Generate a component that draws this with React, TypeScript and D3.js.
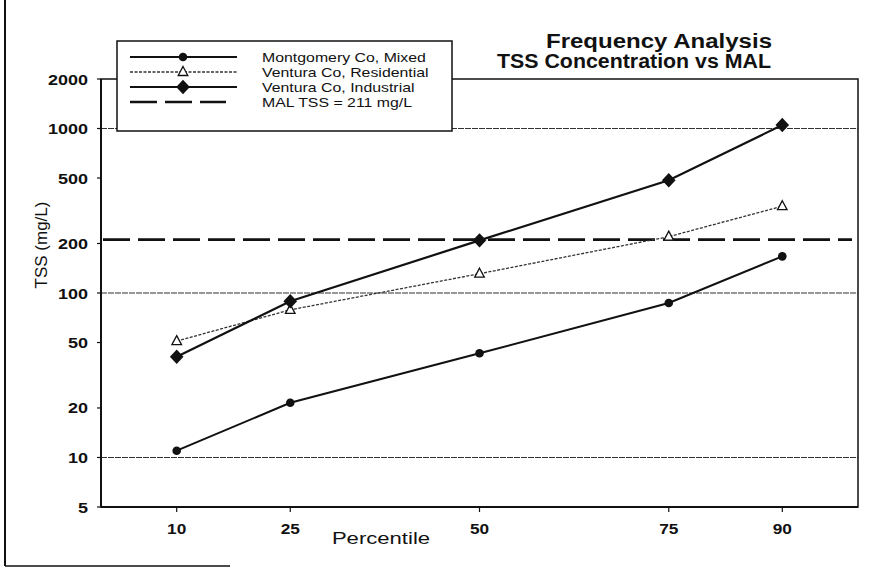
import React from "react";
import * as d3 from "d3";

// percentiles on the x axis
const percentiles = [10, 25, 50, 75, 90];

// TSS (mg/L)
const montgomeryMixed = [11, 21.5, 43, 87, 167];
const venturaResidential = [51, 79, 131, 220, 337];
const venturaIndustrial = [41, 89, 209, 485, 1050];
const malTss = 211;

const yTicks = [5, 10, 20, 50, 100, 200, 500, 1000, 2000];
const gridValues = [10, 100, 1000];

const legendLabels = [
  "Montgomery Co, Mixed",
  "Ventura Co, Residential",
  "Ventura Co, Industrial",
  "MAL TSS = 211 mg/L",
];

const FONT = "'Liberation Sans', Arial, Helvetica, sans-serif";
const INK = "#111";

const W = 890;
const H = 568;
const plot = { left: 101, right: 858, top: 79, bottom: 507 };

const x = d3.scaleLinear().domain([0, 100]).range([plot.left, plot.right]);
const y = d3.scaleLog().domain([5, 2000]).range([plot.bottom, plot.top]);

const line = d3
  .line<[number, number]>()
  .x((d) => x(d[0]))
  .y((d) => y(d[1]));

const pairs = (vals: number[]) => percentiles.map((p, i) => [p, vals[i]] as [number, number]);

// scanned text is a bit wider than the font, so stretch it horizontally
const Txt = ({ x, y, sx = 1, size, weight = "normal", anchor = "start", children }: any) => (
  <text
    transform={`translate(${x},${y}) scale(${sx},1)`}
    fontFamily={FONT}
    fontSize={size}
    fontWeight={weight}
    textAnchor={anchor}
    fill={INK}
  >
    {children}
  </text>
);

const Marker = ({ kind, cx, cy }: { kind: string; cx: number; cy: number }) => {
  if (kind === "circle") return <circle cx={cx} cy={cy} r={4.3} fill={INK} />;
  if (kind === "diamond")
    return <path d={`M${cx},${cy - 7.2} L${cx + 6.8},${cy} L${cx},${cy + 7.2} L${cx - 6.8},${cy} Z`} fill={INK} />;
  return (
    <path
      d={`M${cx},${cy - 5.5} L${cx + 4.8},${cy + 3.5} L${cx - 4.8},${cy + 3.5} Z`}
      fill="#fff"
      stroke={INK}
      strokeWidth={1.3}
    />
  );
};

const series = [
  { values: montgomeryMixed, marker: "circle", width: 2, dash: undefined, color: INK },
  { values: venturaResidential, marker: "triangle", width: 1.3, dash: "3,1.5", color: "#333" },
  { values: venturaIndustrial, marker: "diamond", width: 2.2, dash: undefined, color: INK },
];

export default function App() {
  const legend = { x: 117, y: 41, w: 335, h: 90 };
  const rowY = [57, 72, 87, 102];

  return (
    <svg
      width={W}
      height={H}
      style={{ position: "absolute", left: 0, top: 0, display: "block", background: "#fff" }}
    >
      <rect width={W} height={H} fill="#fff" />

      {/* outer page frame (partial, as scanned) */}
      <line x1={5} y1={0} x2={5} y2={566} stroke={INK} strokeWidth={2} />
      <line x1={5} y1={566} x2={230} y2={566} stroke={INK} strokeWidth={1.5} />

      {/* gridlines */}
      {gridValues.map((v) => (
        <line key={v} x1={plot.left} x2={plot.right} y1={y(v)} y2={y(v)} stroke="#333" strokeWidth={1.2} strokeDasharray="6,1" />
      ))}

      {/* plot frame */}
      <rect
        x={plot.left}
        y={plot.top}
        width={plot.right - plot.left}
        height={plot.bottom - plot.top}
        fill="none"
        stroke={INK}
        strokeWidth={1.5}
      />
      <line x1={plot.left} x2={plot.left} y1={plot.top} y2={plot.bottom} stroke={INK} strokeWidth={2} />
      <line x1={plot.left} x2={plot.right} y1={plot.bottom} y2={plot.bottom} stroke={INK} strokeWidth={2} />

      {/* y ticks */}
      {yTicks.map((v) => (
        <g key={v}>
          <line x1={plot.left - 4} x2={plot.left} y1={y(v)} y2={y(v)} stroke={INK} strokeWidth={1.2} />
          <Txt x={88} y={y(v) + 5.5} sx={1.2} size={15} weight="bold" anchor="end">
            {v}
          </Txt>
        </g>
      ))}

      {/* x ticks */}
      {percentiles.map((p) => (
        <g key={p}>
          <line x1={x(p)} x2={x(p)} y1={plot.bottom} y2={plot.bottom + 5} stroke={INK} strokeWidth={1.2} />
          <Txt x={x(p)} y={534} sx={1.15} size={15} weight="bold" anchor="middle">
            {p}
          </Txt>
        </g>
      ))}

      {/* axis titles */}
      <Txt x={381} y={544} sx={1.3} size={17} anchor="middle">
        Percentile
      </Txt>
      <text
        transform="translate(47,245) rotate(-90)"
        fontFamily={FONT}
        fontSize={17}
        textAnchor="middle"
        fill={INK}
      >
        TSS (mg/L)
      </text>

      {/* MAL line */}
      <line
        x1={plot.left + 2}
        x2={852}
        y1={y(malTss)}
        y2={y(malTss)}
        stroke={INK}
        strokeWidth={2.8}
        strokeDasharray="27,8"
      />

      {/* series */}
      {series.map((s, i) => (
        <g key={i}>
          <path
            d={line(pairs(s.values)) || ""}
            fill="none"
            stroke={s.color}
            strokeWidth={s.width}
            strokeDasharray={s.dash}
          />
          {percentiles.map((p, j) => (
            <Marker key={p} kind={s.marker} cx={x(p)} cy={y(s.values[j])} />
          ))}
        </g>
      ))}

      {/* title */}
      <text x={546} y={48} fontFamily={FONT} fontSize={19.5} fontWeight="bold" fill={INK} textLength={226} lengthAdjust="spacingAndGlyphs">
        Frequency Analysis
      </text>
      <text x={497} y={68} fontFamily={FONT} fontSize={19.5} fontWeight="bold" fill={INK} textLength={274} lengthAdjust="spacingAndGlyphs">
        TSS Concentration vs MAL
      </text>

      {/* legend */}
      <rect x={legend.x} y={legend.y} width={legend.w} height={legend.h} fill="#fff" stroke={INK} strokeWidth={1.5} />
      {legendLabels.map((label, i) => {
        const ry = rowY[i];
        const s = series[i];
        return (
          <g key={label}>
            {s ? (
              <>
                <line
                  x1={130}
                  x2={237}
                  y1={ry}
                  y2={ry}
                  stroke={s.color}
                  strokeWidth={s.width}
                  strokeDasharray={s.dash}
                />
                <Marker kind={s.marker} cx={183} cy={ry} />
              </>
            ) : (
              <line x1={130} x2={226} y1={ry} y2={ry} stroke={INK} strokeWidth={2.6} strokeDasharray="27,8" />
            )}
            <Txt x={262} y={ry + 4.5} sx={1.22} size={13}>
              {label}
            </Txt>
          </g>
        );
      })}
    </svg>
  );
}
